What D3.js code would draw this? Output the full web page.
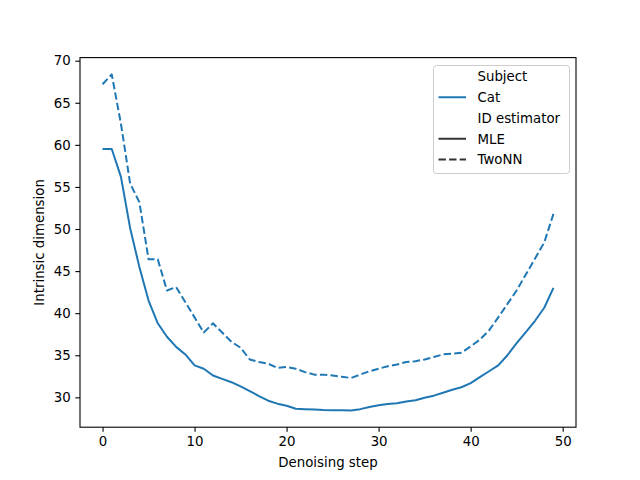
<!DOCTYPE html>
<html>
<head>
<meta charset="utf-8">
<script src="https://cdn.jsdelivr.net/npm/d3@7"></script>
<style>
  html, body { margin: 0; padding: 0; background: #fff; }
  text { font-family: "DejaVu Sans", sans-serif; }
</style>
</head>
<body>
<svg id="chart" width="640" height="480"></svg>
<script>
const steps = d3.range(0, 50);
const mleCat = [59.5, 59.5, 56.2, 50.1, 45.5, 41.5, 38.8, 37.2, 36.0, 35.1,
  33.8, 33.4, 32.6, 32.2, 31.8, 31.3, 30.75, 30.15, 29.6, 29.25,
  29.0, 28.65, 28.6, 28.55, 28.5, 28.48, 28.46, 28.45, 28.6, 28.85,
  29.05, 29.2, 29.3, 29.5, 29.65, 29.95, 30.2, 30.55, 30.9, 31.2,
  31.7, 32.4, 33.1, 33.8, 35.0, 36.45, 37.75, 39.1, 40.65, 43.0];
const twonnCat = [67.2, 68.37, 62.5, 55.4, 53.2, 46.4, 46.4, 42.7, 43.1, 41.3,
  39.5, 37.7, 38.8, 37.7, 36.6, 35.9, 34.5, 34.2, 34.0, 33.5,
  33.6, 33.4, 33.0, 32.7, 32.7, 32.6, 32.45, 32.3, 32.7, 33.1,
  33.4, 33.7, 33.9, 34.2, 34.3, 34.5, 34.8, 35.1, 35.2, 35.3,
  36.05, 36.85, 37.95, 39.5, 41.1, 42.7, 44.6, 46.5, 48.4, 51.8];
const xTicks = [0, 10, 20, 30, 40, 50];
const yTicks = [30, 35, 40, 45, 50, 55, 60, 65, 70];
const xLabel = "Denoising step";
const yLabel = "Intrinsic dimension";
const legendItems = [
  {label: "Subject", kind: "title"},
  {label: "Cat", kind: "solid", color: "#1f77b4"},
  {label: "ID estimator", kind: "title"},
  {label: "MLE", kind: "solid", color: "#333333"},
  {label: "TwoNN", kind: "dashed", color: "#333333"}
];

(function () {
const pL = 80, pR = 576, pT = 57.6, pB = 427.2;
const svg = d3.select("#chart");

const xMin = d3.min(steps), xMax = d3.max(steps);
const xPad = (xMax - xMin) * 0.05;
const allY = mleCat.concat(twonnCat);
const yMin = d3.min(allY), yMax = d3.max(allY);
const yPad = (yMax - yMin) * 0.05;

const x = d3.scaleLinear().domain([xMin - xPad, xMax + xPad]).range([pL, pR]);
const y = d3.scaleLinear().domain([yMin - yPad, yMax + yPad]).range([pB, pT]);

const blue = "#1f77b4";
const line = d3.line().x((d, i) => x(steps[i])).y(d => y(d));

svg.append("path").datum(mleCat).attr("d", line)
  .attr("fill", "none").attr("stroke", blue).attr("stroke-width", 2)
  .attr("stroke-linejoin", "round").attr("stroke-linecap", "butt");
svg.append("path").datum(twonnCat).attr("d", line)
  .attr("fill", "none").attr("stroke", blue).attr("stroke-width", 2)
  .attr("stroke-dasharray", "7.4,3.2")
  .attr("stroke-linejoin", "round").attr("stroke-linecap", "butt");

const xAxis = d3.axisBottom(x).tickValues(xTicks).tickSize(4.67).tickPadding(4.67).tickFormat(d3.format("d"));
const yAxis = d3.axisLeft(y).tickValues(yTicks).tickSize(4.67).tickPadding(4.67).tickFormat(d3.format("d"));

const gx = svg.append("g").attr("transform", `translate(0,${pB})`).call(xAxis);
const gy = svg.append("g").attr("transform", `translate(${pL},0)`).call(yAxis);
[gx, gy].forEach(g => {
  g.select(".domain").remove();
  g.selectAll(".tick line").attr("stroke", "#000").attr("stroke-width", 1.1);
  g.selectAll(".tick text").attr("fill", "#000").style("font-size", "13.33px")
    .style("font-family", "'DejaVu Sans', sans-serif");
});

svg.append("rect").attr("x", pL).attr("y", pT)
  .attr("width", pR - pL).attr("height", pB - pT)
  .attr("fill", "none").attr("stroke", "#000").attr("stroke-width", 1.1);

svg.append("text").attr("x", (pL + pR) / 2).attr("y", 467)
  .attr("text-anchor", "middle").style("font-size", "13.33px").attr("fill", "#000")
  .text(xLabel);
svg.append("text").attr("transform", `translate(44,${(pT + pB) / 2}) rotate(-90)`)
  .attr("text-anchor", "middle").style("font-size", "13.33px").attr("fill", "#000")
  .text(yLabel);

const lg = svg.append("g");
lg.append("rect").attr("x", 433.5).attr("y", 65.5).attr("width", 136).attr("height", 108)
  .attr("rx", 3).attr("ry", 3)
  .attr("fill", "#fff").attr("fill-opacity", 0.8)
  .attr("stroke", "#cccccc").attr("stroke-width", 1);
const rowY = d3.scaleLinear().domain([0, 4]).range([76.5, 159.5]);
legendItems.forEach((it, i) => {
  const yy = rowY(i);
  if (it.kind !== "title") {
    const ln = lg.append("line").attr("x1", 438.5).attr("x2", 466).attr("y1", yy).attr("y2", yy)
      .attr("stroke", it.color).attr("stroke-width", 2);
    if (it.kind === "dashed") ln.attr("stroke-dasharray", "7.4,3.2");
  }
  lg.append("text").attr("x", 477.5).attr("y", yy).attr("dy", "0.36em")
    .style("font-size", "13.33px").attr("fill", "#000").text(it.label);
});
})();
</script>
</body>
</html>
